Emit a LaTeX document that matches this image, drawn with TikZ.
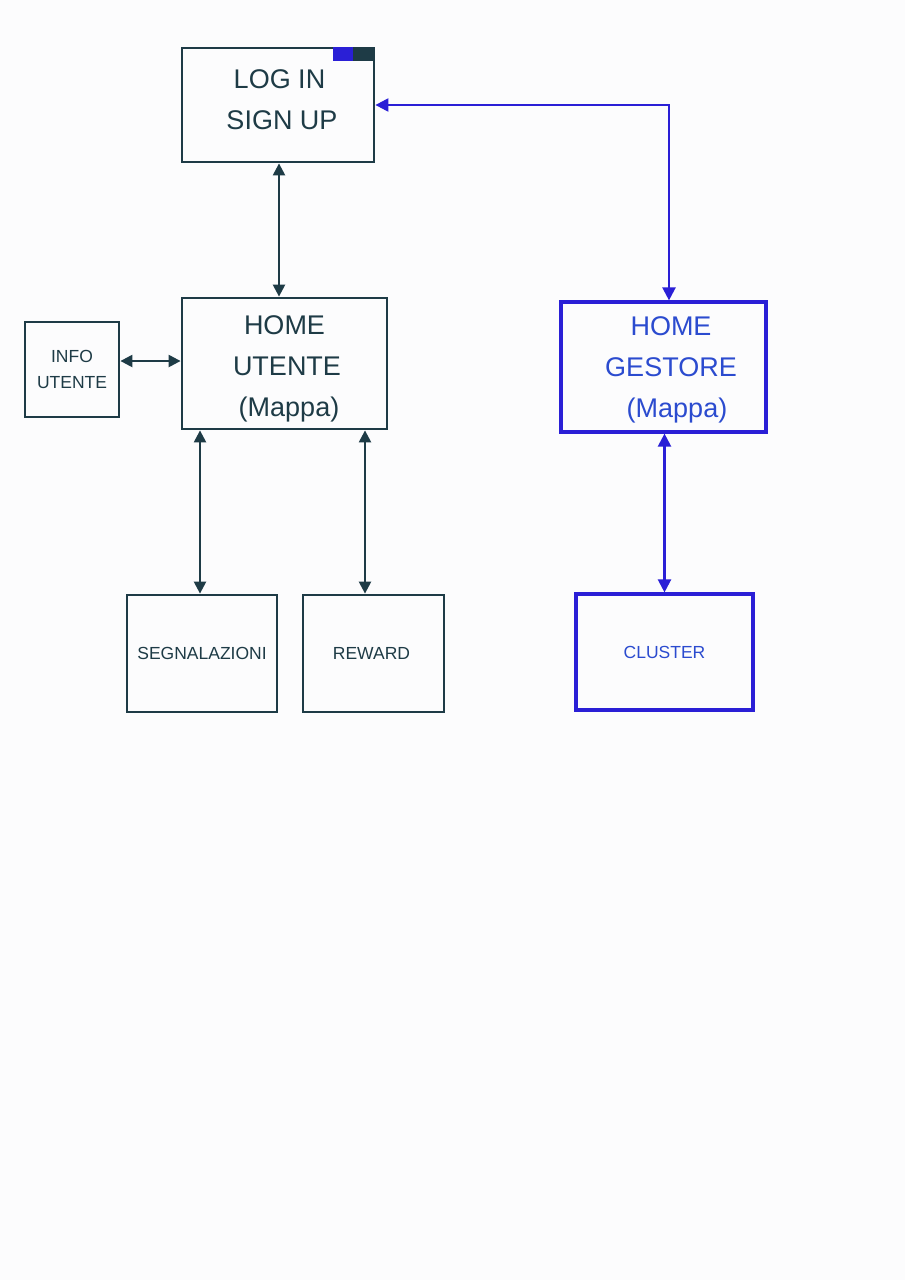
\documentclass[tikz,border=0pt]{standalone}
\usepackage{fontspec}
\setmainfont{Liberation Sans}
\usepackage{xcolor}
\usepackage{tikz}
\usetikzlibrary{arrows.meta}
\usetikzlibrary{calc}

\definecolor{ink}{HTML}{1E3B46}
\definecolor{gline}{HTML}{2A1FD6}
\definecolor{gtext}{HTML}{2B4BCF}
\definecolor{paper}{HTML}{FCFCFD}

\tikzset{
  ubox/.style={draw=ink,line width=2.8pt,text=ink,inner sep=0pt,align=center},
  gbox/.style={draw=gline,line width=3.2pt,text=gtext,inner sep=0pt,align=center},
  bigtxt/.style={font=\fontsize{27}{41}\selectfont},
  smalltxt/.style={font=\fontsize{17.5}{26}\selectfont},
  ulink/.style={draw=ink,line width=2.3pt,{Triangle[length=12pt,width=12pt]}-{Triangle[length=12pt,width=12pt]}},
  glink/.style={draw=gline,line width=2.3pt,{Triangle[length=13pt,width=13pt]}-{Triangle[length=13pt,width=13pt]}}
}

\begin{document}
\begin{tikzpicture}[x=1pt,y=-1pt]
        \fill[paper] (0,0) rectangle (905,1280);
        \useasboundingbox (0,0) rectangle (905,1280);

        % lato utente
        \node[ubox,bigtxt,text depth=10pt,minimum width=192pt,minimum height=114pt] (login) at (278,105) {\hspace*{3pt}LOG IN\\\hspace*{8pt}SIGN UP};
        \fill[gline] ($(login.north east)+(-42,0)$) rectangle ($(login.north east)+(-22,14)$);
        \fill[ink] ($(login.north east)+(-22,0)$) rectangle ($(login.north east)+(0,14)$);
        \node[ubox,bigtxt,text height=111pt,text depth=5.7pt,minimum width=205pt,minimum height=131pt] (homeut) at (284.5,363.5) {HOME\\\hspace*{5pt}UTENTE\\\hspace*{9pt}(Mappa)};
        \node[ubox,smalltxt,minimum width=94pt,minimum height=95pt] (info) at (72,369.5) {INFO\\UTENTE};
        \node[ubox,smalltxt,minimum width=150pt,minimum height=117pt] (segn) at (202,653.5) {SEGNALAZIONI};
        \node[ubox,smalltxt,minimum width=141pt,minimum height=117pt] (reward) at (373.5,653.5) {\hspace*{-4pt}REWARD};

        % lato gestore
        \node[gbox,bigtxt,text height=107.5pt,text depth=5.7pt,minimum width=205pt,minimum height=130pt] (homeges) at (663.5,367) {\hspace*{15pt}HOME\\\hspace*{15pt}GESTORE\\\hspace*{27pt}(Mappa)};
        \node[gbox,smalltxt,minimum width=177pt,minimum height=116pt] (cluster) at (664.5,652) {CLUSTER};

        \draw[ulink] ([xshift=1pt]login.south) -- ([xshift=1pt]login.south |- homeut.north);
        \draw[ulink] ([yshift=8.5pt]info.east) -- ([yshift=8.5pt]info.east -| homeut.west);
        \draw[ulink] ([xshift=-2pt]segn.north |- homeut.south) -- ([xshift=-2pt]segn.north);
        \draw[ulink] ([xshift=-8.5pt]reward.north |- homeut.south) -- ([xshift=-8.5pt]reward.north);
        \draw[glink] (cluster.north |- homeges.south) -- (cluster.north);
        \draw[glink] ([xshift=5.5pt]homeges.north) |- (login.east);
\end{tikzpicture}
\end{document}
